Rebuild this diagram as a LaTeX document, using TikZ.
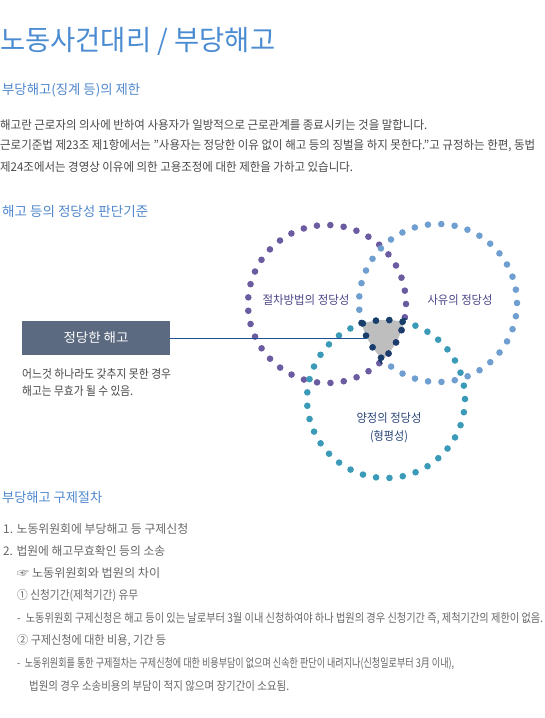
\documentclass[tikz,border=0pt]{standalone}
\usepackage{fontspec}
\setmainfont{Noto Sans CJK KR}
\usepackage{graphicx}
\definecolor{titleblue}{HTML}{4A8BD2}
\definecolor{headblue}{HTML}{4F87CC}
\definecolor{bodygray}{HTML}{484848}
\definecolor{listgray}{HTML}{666666}
\definecolor{cpurple}{HTML}{6B5BA0}
\definecolor{cblue}{HTML}{6F9FD0}
\definecolor{cteal}{HTML}{3A9AB8}
\definecolor{cnavy}{HTML}{1B3D6B}
\definecolor{cgray}{HTML}{BEBEBE}
\definecolor{boxslate}{HTML}{5B6A80}
\definecolor{linkblue}{HTML}{1F4E91}
\definecolor{lblpurple}{HTML}{4A4688}
\definecolor{lblnavy}{HTML}{2A4678}
\newsavebox\fitbox
\newcommand\fitw[2]{\sbox\fitbox{#2}\pgfmathsetmacro\fitratio{#1/\wd\fitbox}\scalebox{\fitratio}[1]{\usebox\fitbox}}
\newcommand\sqz[2]{\scalebox{#1}[1]{#2}}
\tikzset{
  txt/.style={anchor=west, inner sep=0pt, font=\fontsize{12}{14}\selectfont, text=bodygray},
  lst/.style={txt, text=listgray},
  head/.style={anchor=west, inner sep=0pt, font=\fontsize{13.5}{16}\selectfont, text=headblue},
  lbl/.style={inner sep=0pt, font=\fontsize{12}{14}\selectfont},
  dotring/.style={line width=6.6pt, line cap=round, dash pattern=on 0pt off 13.42pt},
}
\begin{document}
% uniform horizontal squeeze for body text
\sbox\fitbox{\fontsize{12}{14}\selectfont 근로기준법 제23조 제1항에서는 "사용자는 정당한 이유 없이 해고 등의 징벌을 하지 못한다."고 규정하는 한편, 동법}%
\pgfmathsetmacro\bodyr{535/\wd\fitbox}%
\begin{tikzpicture}[x=1pt,y=-1pt]
\useasboundingbox (0,0) rectangle (545,718);
% title & headings
\node[anchor=west, inner sep=0pt, font=\fontsize{28}{32}\selectfont, text=titleblue] (title) at (0,41) {\fitw{275}{노동사건대리 / 부당해고}};
\node[head] (h1) at (2,90) {\fitw{138}{부당해고(징계 등)의 제한}};
\node[txt] (p1) at (0,125) {\sqz{\bodyr}{해고란 근로자의 의사에 반하여 사용자가 일방적으로 근로관계를 종료시키는 것을 말합니다.}};
\node[txt] (p2) at (0,146) {\sqz{\bodyr}{근로기준법 제23조 제1항에서는 "사용자는 정당한 이유 없이 해고 등의 징벌을 하지 못한다."고 규정하는 한편, 동법}};
\node[txt] (p3) at (0,167) {\sqz{\bodyr}{제24조에서는 경영상 이유에 의한 고용조정에 대한 제한을 가하고 있습니다.}};
\node[head] (h2) at (2,211) {\fitw{146}{해고 등의 정당성 판단기준}};
% gray triple intersection
\begin{scope}
  \clip (327,304) circle[radius=79pt];
  \clip (438,303) circle[radius=79pt];
  \fill[cgray] (386,399) circle[radius=79pt];
\end{scope}
% dotted rings
\draw[dotring, cpurple] (327,304) circle[radius=79pt];
\draw[dotring, cblue] (438,303) circle[radius=79pt];
\draw[dotring, cteal] (386,399) circle[radius=79pt];
% navy arcs bounding the triple intersection
\begin{scope}
  \clip (327,304) circle[radius=83pt];
  \clip (438,303) circle[radius=83pt];
  \draw[dotring, cnavy] (386,399) circle[radius=79pt];
\end{scope}
\begin{scope}
  \clip (327,304) circle[radius=83pt];
  \clip (386,399) circle[radius=83pt];
  \draw[dotring, cnavy] (438,303) circle[radius=79pt];
\end{scope}
\begin{scope}
  \clip (438,303) circle[radius=83pt];
  \clip (386,399) circle[radius=83pt];
  \draw[dotring, cnavy] (327,304) circle[radius=79pt];
\end{scope}
% circle labels
\node[lbl, text=lblpurple] (l1) at (306,300) {\fitw{87}{절차방법의 정당성}};
\node[lbl, text=lblpurple] (l2) at (460,300) {\fitw{65}{사유의 정당성}};
\node[lbl, text=lblnavy] (l3) at (389,418) {\fitw{65}{양정의 정당성}};
\node[lbl, text=lblnavy] (l4) at (389,437) {\fitw{38}{(형평성)}};
% box and link
\node[fill=boxslate, minimum width=148pt, minimum height=34pt, inner sep=0pt, text=white, font=\fontsize{13}{15}\selectfont] (box) at (96,338) {\fitw{65}{정당한 해고}};
\coordinate (tri) at (367,338);
\draw[linkblue, line width=1pt] (box.east) -- (tri);
\node[txt] (b1) at (22,374) {\fitw{149}{어느것 하나라도 갖추지 못한 경우}};
\node[txt] (b2) at (22,391) {\fitw{111}{해고는 무효가 될 수 있음.}};
% procedures
\node[head] (h3) at (2,497) {\fitw{100}{부당해고 구제절차}};
\node[lst] (i1) at (3,529) {\fitw{185}{1. 노동위원회에 부당해고 등 구제신청}};
\node[lst] (i2) at (3,551) {\fitw{162}{2. 법원에 해고무효확인 등의 소송}};
\node[lst] (i3) at (17,573) {\fitw{143}{☞ 노동위원회와 법원의 차이}};
\node[lst] (i4) at (17,596) {\fitw{121}{① 신청기간(제척기간) 유무}};
\node[lst] (i5) at (17,619) {\fitw{526}{-\hspace{6pt}노동위원회 구제신청은 해고 등이 있는 날로부터 3월 이내 신청하여야 하나 법원의 경우 신청기간 즉, 제척기간의 제한이 없음.}};
\node[lst] (i6) at (17,641) {\fitw{149}{② 구제신청에 대한 비용, 기간 등}};
\node[lst] (i7) at (17,664) {\fitw{437}{-\hspace{6pt}노동위원회를 통한 구제절차는 구제신청에 대한 비용부담이 없으며 신속한 판단이 내려지나(신청일로부터 3月 이내),}};
\node[lst] (i8) at (29,686) {\fitw{260}{법원의 경우 소송비용의 부담이 적지 않으며 장기간이 소요됨.}};
\end{tikzpicture}
\end{document}
